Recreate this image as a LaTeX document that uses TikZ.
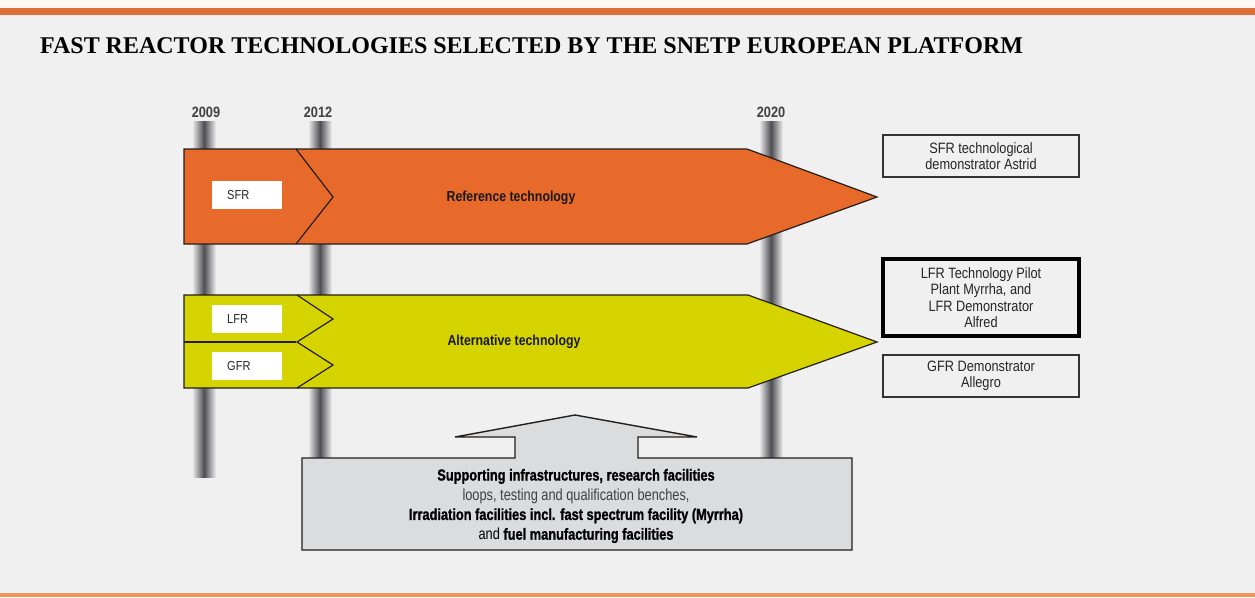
\documentclass[tikz,border=0pt]{standalone}
\usepackage{fontspec}
\setmainfont{Liberation Serif}
\newfontfamily\cond[FakeStretch=0.85]{Liberation Sans}
\newfontfamily\xcond[FakeStretch=0.8,BoldFeatures={FakeBold=1.2}]{Liberation Sans}
\definecolor{bgc}{RGB}{240,240,240}
\definecolor{topstrip}{RGB}{253,249,245}
\definecolor{topbar}{RGB}{221,112,58}
\definecolor{botbar}{RGB}{236,150,95}
\definecolor{sfrc}{RGB}{232,106,42}
\definecolor{yelc}{RGB}{214,212,0}
\definecolor{boxgray}{RGB}{218,220,222}
\definecolor{barc}{RGB}{78,78,84}
\definecolor{edge}{RGB}{35,30,25}
\begin{document}
\begin{tikzpicture}[x=1pt,y=-1pt,
  bar/.style={left color=bgc,right color=bgc,middle color=barc},
  arrowshape/.style={draw=edge,line width=1.2pt,line join=miter},
  chev/.style={draw=edge,line width=1.2pt},
  lbl/.style={fill=white,anchor=west,text width=40pt,align=left,inner xsep=15pt,minimum height=28pt,inner ysep=0pt,font=\cond\fontsize{13}{15}\selectfont,text=black!85},
  year/.style={font=\cond\bfseries\fontsize{15}{17}\selectfont,text=black!75,inner sep=0pt},
  tech/.style={font=\cond\bfseries\fontsize{14.5}{16}\selectfont,text=black!90,inner sep=0pt},
  resbox/.style={draw=black!80,line width=1.6pt,fill=bgc,minimum width=196pt,minimum height=42pt,inner sep=0pt,align=center,font=\cond\fontsize{15}{16.3}\selectfont,text=black!85},
]
\useasboundingbox (0,0) rectangle (1255,597);
% background
\fill[bgc] (0,0) rectangle (1255,597);
\fill[topstrip] (0,0) rectangle (1255,8);
\fill[topbar] (0,8) rectangle (1255,14.5);
\fill[botbar] (0,593) rectangle (1255,597);

% title
\node[anchor=base west,font=\bfseries\fontsize{24}{26}\selectfont,inner sep=0pt] (title) at (40,53)
  {FAST REACTOR TECHNOLOGIES SELECTED BY THE SNETP EUROPEAN PLATFORM};

% timeline bars
\shade[bar] (192,121) rectangle (216,477);
\shade[bar] (308,121) rectangle (332,458);
\shade[bar] (759,121) rectangle (783,458);
\node[year] (y2009) at (206,112) {2009};
\node[year] (y2012) at (318,112) {2012};
\node[year] (y2020) at (771,112) {2020};

% SFR arrow
\filldraw[arrowshape,fill=sfrc] (184,149) -- (747,149) -- (877,197) -- (747,244) -- (184,244) -- cycle;
\draw[chev] (296,149) -- (333,197) -- (296,244);
\node[lbl] (sfr) at (212,195) {SFR};
\node[tech] (reftech) at (511,198) {Reference technology};

% LFR / GFR arrow
\filldraw[arrowshape,fill=yelc] (184,295) -- (748,295) -- (877,342) -- (748,388) -- (184,388) -- cycle;
\draw[chev] (184,342) -- (296,342);
\draw[chev] (297,295) -- (333,319) -- (297,342) -- (333,365) -- (297,388);
\node[lbl] (lfr) at (212,319) {LFR};
\node[lbl] (gfr) at (212,366) {GFR};
\node[tech] (alttech) at (514,342) {Alternative technology};

% result boxes
\node[resbox] (sfrdemo) at (981,156) {SFR technological\\demonstrator Astrid};
\node[resbox,draw=black,line width=3.6pt,minimum height=77pt] (lfrdemo) at (981,297.5)
  {LFR Technology Pilot\\Plant Myrrha, and\\LFR Demonstrator\\Alfred};
\node[resbox] (gfrdemo) at (981,376) {GFR Demonstrator\\Allegro};

% supporting infrastructure box with arrow
\filldraw[draw=edge,line width=1.4pt,fill=boxgray,line join=miter]
  (302,458) -- (515,458) -- (515,437) -- (455,437) -- (575,415) -- (697,437)
  -- (638,437) -- (638,458) -- (852,458) -- (852,550) -- (302,550) -- cycle;
\node[align=center,inner sep=0pt,font=\xcond\fontsize{16}{19.7}\selectfont,text=black] (infra) at (576,506)
  {\textbf{Supporting infrastructures, research facilities}\\
   {\color{black!75}loops, testing and qualification benches,}\\
   \textbf{Irradiation facilities incl. fast spectrum facility (Myrrha)}\\
   and \textbf{fuel manufacturing facilities}};
\end{tikzpicture}
\end{document}
